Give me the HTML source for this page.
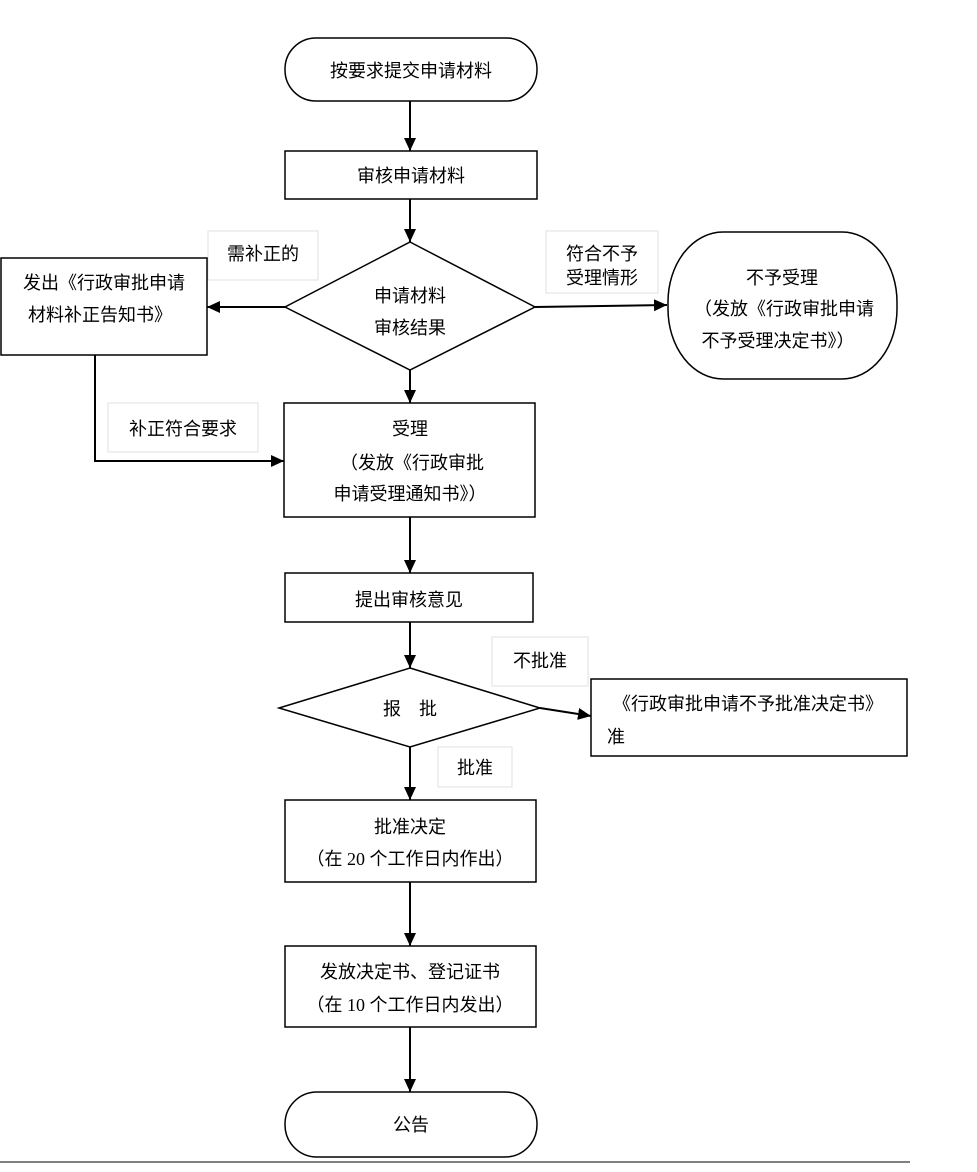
<!DOCTYPE html>
<html><head><meta charset="utf-8"><style>
html,body{margin:0;padding:0;background:#fff;}
svg{display:block;}
text{font-family:"Liberation Serif","Noto Sans CJK SC",sans-serif;font-size:18px;fill:#000;}
.b{fill:#fff;stroke:#000;stroke-width:1.5;}
.l{fill:#fff;stroke:#e2e2e2;stroke-width:1;}
.c{stroke:#000;stroke-width:2;fill:none;}
</style></head><body>
<svg width="977" height="1172" viewBox="0 0 977 1172" xmlns="http://www.w3.org/2000/svg">
<defs>
<marker id="m" markerWidth="14" markerHeight="14" refX="13" refY="6" orient="auto" markerUnits="userSpaceOnUse"><path d="M0,0 L13,6 L0,12 z" fill="#000"/></marker></defs>

<rect class="l" x="208" y="231" width="110" height="49"/>
<text x="263" y="260" text-anchor="middle">需补正的</text>
<rect class="l" x="546" y="231" width="112" height="62"/>
<text x="602" y="260" text-anchor="middle">符合不予</text>
<text x="602" y="284" text-anchor="middle">受理情形</text>
<rect class="l" x="108" y="403" width="150" height="49"/>
<text x="183" y="435" text-anchor="middle">补正符合要求</text>
<rect class="l" x="492" y="637" width="96" height="49"/>
<text x="540" y="667" text-anchor="middle">不批准</text>
<rect class="l" x="438" y="747" width="74" height="40"/>
<text x="475" y="774" text-anchor="middle">批准</text>

<line class="c" x1="410" y1="101" x2="410" y2="151" marker-end="url(#m)"/>
<line class="c" x1="410" y1="199" x2="410" y2="242" marker-end="url(#m)"/>
<line class="c" x1="285" y1="307" x2="207" y2="307" marker-end="url(#m)"/>
<line class="c" x1="535" y1="307" x2="667" y2="305" marker-end="url(#m)"/>
<line class="c" x1="410" y1="370" x2="410" y2="403" marker-end="url(#m)"/>
<polyline class="c" points="95,355 95,461 284,461" marker-end="url(#m)"/>
<line class="c" x1="410" y1="517" x2="410" y2="573" marker-end="url(#m)"/>
<line class="c" x1="410" y1="622" x2="410" y2="668" marker-end="url(#m)"/>
<line class="c" x1="540" y1="708" x2="591" y2="716" marker-end="url(#m)"/>
<line class="c" x1="410" y1="747" x2="410" y2="800" marker-end="url(#m)"/>
<line class="c" x1="410" y1="882" x2="410" y2="946" marker-end="url(#m)"/>
<line class="c" x1="410" y1="1027" x2="410" y2="1092" marker-end="url(#m)"/>

<rect class="b" x="285" y="38" width="252" height="63" rx="31" ry="31"/>
<text x="411" y="77" text-anchor="middle">按要求提交申请材料</text>
<rect class="b" x="285" y="151" width="252" height="48"/>
<text x="411" y="182" text-anchor="middle">审核申请材料</text>
<polygon class="b" points="410,242 535,307 410,370 285,307"/>
<text x="410" y="302" text-anchor="middle">申请材料</text>
<text x="410" y="334" text-anchor="middle">审核结果</text>
<rect class="b" x="1" y="258" width="206" height="97"/>
<text x="104" y="289" text-anchor="middle">发出《行政审批申请</text>
<text x="100" y="321" text-anchor="middle">材料补正告知书》</text>
<rect class="b" x="668" y="232" width="229" height="147" rx="55" ry="70"/>
<text x="782" y="284" text-anchor="middle">不予受理</text>
<text x="784" y="315" text-anchor="middle">（发放《行政审批申请</text>
<text x="778" y="347" text-anchor="middle">不予受理决定书》）</text>
<rect class="b" x="284" y="403" width="251" height="114"/>
<text x="410" y="435" text-anchor="middle">受理</text>
<text x="412" y="469" text-anchor="middle">（发放《行政审批</text>
<text x="410" y="500" text-anchor="middle">申请受理通知书》）</text>
<rect class="b" x="285" y="573" width="248" height="49"/>
<text x="409" y="606" text-anchor="middle">提出审核意见</text>
<polygon class="b" points="410,668 540,708 410,747 279,708"/>
<text x="410" y="715" text-anchor="middle">报　批</text>
<rect class="b" x="591" y="679" width="316" height="77"/>
<text x="748" y="710" text-anchor="middle">《行政审批申请不予批准决定书》</text>
<text x="607" y="743">准</text>
<rect class="b" x="285" y="800" width="251" height="82"/>
<text x="410" y="833" text-anchor="middle">批准决定</text>
<text x="410" y="865" text-anchor="middle">（在 20 个工作日内作出）</text>
<rect class="b" x="285" y="946" width="251" height="81"/>
<text x="410" y="978" text-anchor="middle">发放决定书、登记证书</text>
<text x="410" y="1011" text-anchor="middle">（在 10 个工作日内发出）</text>
<rect class="b" x="285" y="1092" width="252" height="65" rx="32" ry="32"/>
<text x="411" y="1131" text-anchor="middle">公告</text>

<line x1="0" y1="1162" x2="910" y2="1162" stroke="#000" stroke-width="1"/>
</svg>
</body></html>
